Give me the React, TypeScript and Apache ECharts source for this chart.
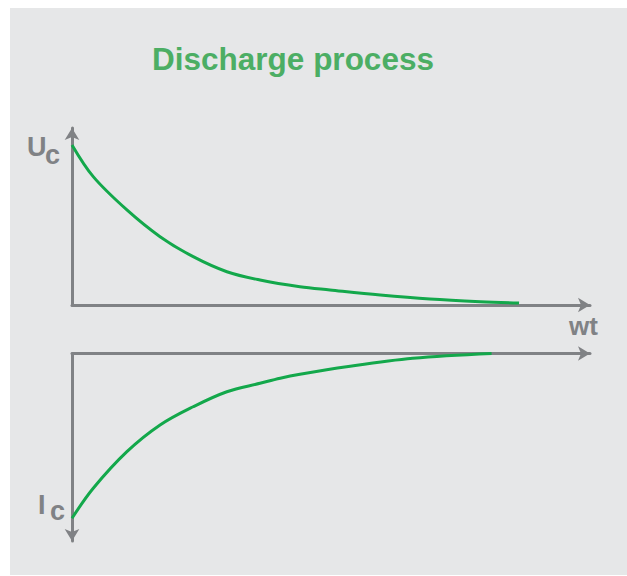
import React, { useEffect, useRef } from "react";
import * as echarts from "echarts";

// ---- data ----
const TITLE = "Discharge process";
const timeUpper = [0, 0.41, 1.06, 1.7, 2.34, 2.99, 3.63, 4.4, 4.98, 5.95, 6.91, 7.88, 8.63];
const voltage = [1.0, 0.802, 0.594, 0.427, 0.302, 0.208, 0.156, 0.114, 0.094, 0.0625, 0.0375, 0.021, 0.0125];
const timeLower = [0, 0.41, 1.06, 1.7, 2.34, 2.99, 3.63, 4.02, 4.4, 5.3, 6.58, 8.1];
const current = [-1.0, -0.818, -0.596, -0.434, -0.323, -0.232, -0.181, -0.15, -0.126, -0.08, -0.029, 0.0];
const upperLabel = ["U", "c"];
const lowerLabel = ["I", "c"];
const xLabel = "wt";

const X_MAX = 10;
const UPPER_MAX = 1.106;
const LOWER_MIN = -1.138;

const GRAY = "#808285";
const GREEN = "#13a84b";
const TITLE_GREEN = "#4cae64";
const BG = "#e6e7e8";
const FONT = '"Liberation Sans", Arial, Helvetica, sans-serif';

function txt(text: string, x: number, y: number, size: number, color: string, align = "left") {
  return {
    type: "text",
    x,
    y,
    z: 10,
    silent: true,
    style: {
      text,
      fill: color,
      font: `bold ${size}px ${FONT}`,
      align,
      verticalAlign: "middle",
      textAlign: align,
      textVerticalAlign: "middle",
    },
  };
}

export default function App() {
  const ref = useRef<HTMLDivElement>(null);

  useEffect(() => {
    if (!ref.current) return;
    const chart = echarts.init(ref.current, undefined, { renderer: "svg" });

    const hiddenBits = {
      axisTick: { show: false },
      axisLabel: { show: false },
      splitLine: { show: false },
    };
    const line = (symbol: string[]) => ({
      show: true,
      onZero: true,
      symbol,
      symbolSize: [11, 12],
      lineStyle: { color: GRAY, width: 3 },
    });

    chart.setOption({
      animation: false,
      backgroundColor: "#ffffff",
      grid: [
        { left: 72, top: 128, width: 518, height: 177 },
        { left: 72, top: 353.5, width: 518, height: 187.5 },
      ],
      xAxis: [
        { type: "value", gridIndex: 0, min: 0, max: X_MAX, axisLine: line(["none", "arrow"]), ...hiddenBits },
        { type: "value", gridIndex: 1, min: 0, max: X_MAX, axisLine: line(["none", "arrow"]), ...hiddenBits },
      ],
      yAxis: [
        { type: "value", gridIndex: 0, min: 0, max: UPPER_MAX, axisLine: line(["none", "arrow"]), ...hiddenBits },
        { type: "value", gridIndex: 1, min: LOWER_MIN, max: 0, axisLine: line(["arrow", "none"]), ...hiddenBits },
      ],
      series: [
        {
          type: "line",
          xAxisIndex: 0,
          yAxisIndex: 0,
          data: timeUpper.map((t, i) => [t, voltage[i]]),
          smooth: 0.35,
          showSymbol: false,
          lineStyle: { color: GREEN, width: 3 },
          silent: true,
        },
        {
          type: "line",
          xAxisIndex: 1,
          yAxisIndex: 1,
          data: timeLower.map((t, i) => [t, current[i]]),
          smooth: 0.35,
          showSymbol: false,
          lineStyle: { color: GREEN, width: 3 },
          silent: true,
        },
      ],
      graphic: [
        {
          type: "rect",
          z: -10,
          silent: true,
          shape: { x: 10, y: 8, width: 617, height: 567 },
          style: { fill: BG },
        },
        txt(TITLE, 293, 59, 31.5, TITLE_GREEN, "center"),
        txt(upperLabel[0], 27, 147, 27, GRAY),
        txt(upperLabel[1], 45, 155, 27, GRAY),
        txt(lowerLabel[0], 38, 505, 27, GRAY),
        txt(lowerLabel[1], 50, 511, 27, GRAY),
        txt(xLabel, 569, 326, 26, GRAY),
      ],
    });

    return () => chart.dispose();
  }, []);

  return (
    <div
      ref={ref}
      style={{ position: "fixed", left: 0, top: 0, width: 627, height: 576 }}
    />
  );
}
